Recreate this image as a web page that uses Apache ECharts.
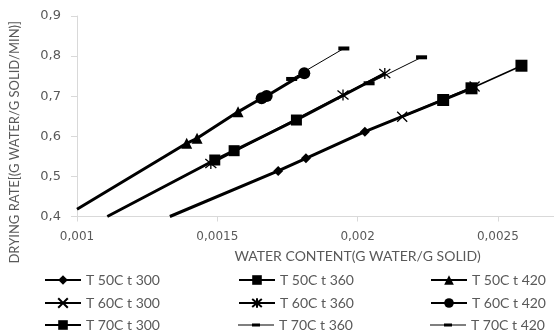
<!DOCTYPE html>
<html><head><meta charset="utf-8">
<script src="https://cdn.jsdelivr.net/npm/echarts@6/dist/echarts.min.js"></script>
<style>html,body{margin:0;padding:0;background:#fff}#c{width:554px;height:336px}</style>
</head><body><div id="c"></div>
<script>
// Data: [water content, drying rate, marker shown (1) / line continuation point (0)]
const T50_300 = [[0.001331,0.4,0],[0.001717,0.5135,1],[0.001816,0.5451,1],[0.002026,0.6115,1],[0.002406,0.7197,0]];
const T50_360 = [[0.001108,0.4,0],[0.001491,0.5409,1],[0.00156,0.5641,1],[0.001782,0.6406,1],[0.002097,0.7566,0]];
const T50_420 = [[0.001,0.418,0],[0.001391,0.5825,1],[0.001428,0.595,1],[0.001574,0.661,1],[0.001658,0.695,0]];
const T60_300 = [[0.002159,0.6489,1],[0.002417,0.7242,1]];
const T60_360 = [[0.001477,0.5322,1],[0.001948,0.703,1],[0.002097,0.7566,1]];
const T60_420 = [[0.001658,0.695,1],[0.001676,0.7005,1],[0.00181,0.757,1]];
const T70_300 = [[0.002305,0.6905,1],[0.002406,0.7197,1],[0.002584,0.776,1]];
const T70_360 = [[0.002041,0.7322,1],[0.002228,0.797,1]];
const T70_420 = [[0.001765,0.743,1],[0.001951,0.819,1]];
const yTicks = {min:0.4, max:0.9, step:0.1};
const xTicks = {min:0.001, max:0.0027, step:0.0005};

const names = ['T 50C t 300','T 50C t 360','T 50C t 420','T 60C t 300','T 60C t 360','T 60C t 420','T 70C t 300','T 70C t 360','T 70C t 420'];
const datas = [T50_300,T50_360,T50_420,T60_300,T60_360,T60_420,T70_300,T70_360,T70_420];
const XPATH = 'path://M0,0L10,10M10,0L0,10';
const STAR = 'path://M0,0L10,10M10,0L0,10M5,-1L5,11';
const DASH_ICON = 'path://M0,0h0.05v0.05h-0.05Z M0,11.95h0.05v0.05h-0.05Z M0,5.5h36v1h-36Z M14,4.5h8v3h-8Z';
const styles = [
  {symbol:'diamond', size:10, w:3},
  {symbol:'rect', size:11, w:3},
  {symbol:'triangle', size:11, w:3},
  {symbol:XPATH, size:10, w:2, stroke:true},
  {symbol:STAR, size:11, w:2, stroke:true},
  {symbol:'circle', size:12, w:3},
  {symbol:'rect', size:12, w:1.6},
  {symbol:'rect', size:[11,4], w:1, icon:DASH_ICON},
  {symbol:'rect', size:[11,4], w:1, icon:DASH_ICON}
];
const series = names.map((n,i)=>{
  const s = styles[i];
  return {
    name:n, type:'line', clip:true,
    symbol:s.symbol, symbolSize:s.size,
    showAllSymbol:true,
    lineStyle:{color:'#000', width:s.w},
    itemStyle: s.stroke ? {color:'#000', borderColor:'#000', borderWidth:1.3} : {color:'#000', borderWidth:0},
    data: datas[i].map(p => p[2] ? {value:[p[0],p[1]]} : {value:[p[0],p[1]], symbol:'none'}),
    z: 2 + i
  };
});
const colLeft = [39, 233, 425];
const rowTop = [268, 291, 313];
const legends = names.map((n,i)=>({
  left: colLeft[i % 3], top: rowTop[Math.floor(i / 3)],
  itemWidth:36, itemHeight:12, itemGap:0,
  textStyle:{fontFamily:'Lato', fontSize:14, lineHeight:14, color:'#595959'},
  data:[styles[i].icon ? {name:n, icon:styles[i].icon} : n]
}));
const fmt = v => String(+v.toFixed(6)).replace('.', ',');
const chart = echarts.init(document.getElementById('c'), null, {renderer:'canvas'});
chart.setOption({
  animation:false,
  backgroundColor:'#fff',
  grid:{left:77, top:16, width:477, height:200.5, containLabel:false},
  xAxis:{
    type:'value', min:xTicks.min, max:xTicks.max, interval:xTicks.step,
    name:'WATER CONTENT(G WATER/G SOLID)', nameLocation:'middle', nameGap:33,
    nameTextStyle:{fontFamily:'Lato', fontSize:14, color:'#595959', padding:[0,0,0,84]},
    axisLine:{show:true, lineStyle:{color:'#d9d9d9', width:1}},
    axisTick:{show:true, length:5, lineStyle:{color:'#d9d9d9'}},
    axisLabel:{formatter:fmt, showMaxLabel:false, margin:14, fontFamily:'DejaVu Sans', fontSize:12, color:'#595959'},
    splitLine:{show:false}
  },
  yAxis:{
    type:'value', min:yTicks.min, max:yTicks.max, interval:yTicks.step,
    name:'DRYING RATE[(G WATER/G SOLID/MIN)]', nameLocation:'middle', nameRotate:90, nameGap:56,
    nameTextStyle:{fontFamily:'Lato', fontSize:13, color:'#595959', padding:[0,52,0,0]},
    axisLine:{show:true, lineStyle:{color:'#d9d9d9', width:1}},
    axisTick:{show:true, length:6, lineStyle:{color:'#d9d9d9'}},
    axisLabel:{formatter:fmt, margin:16, fontFamily:'DejaVu Sans', fontSize:13, color:'#595959'},
    splitLine:{show:false}
  },
  legend: legends,
  series: series
});
</script></body></html>
